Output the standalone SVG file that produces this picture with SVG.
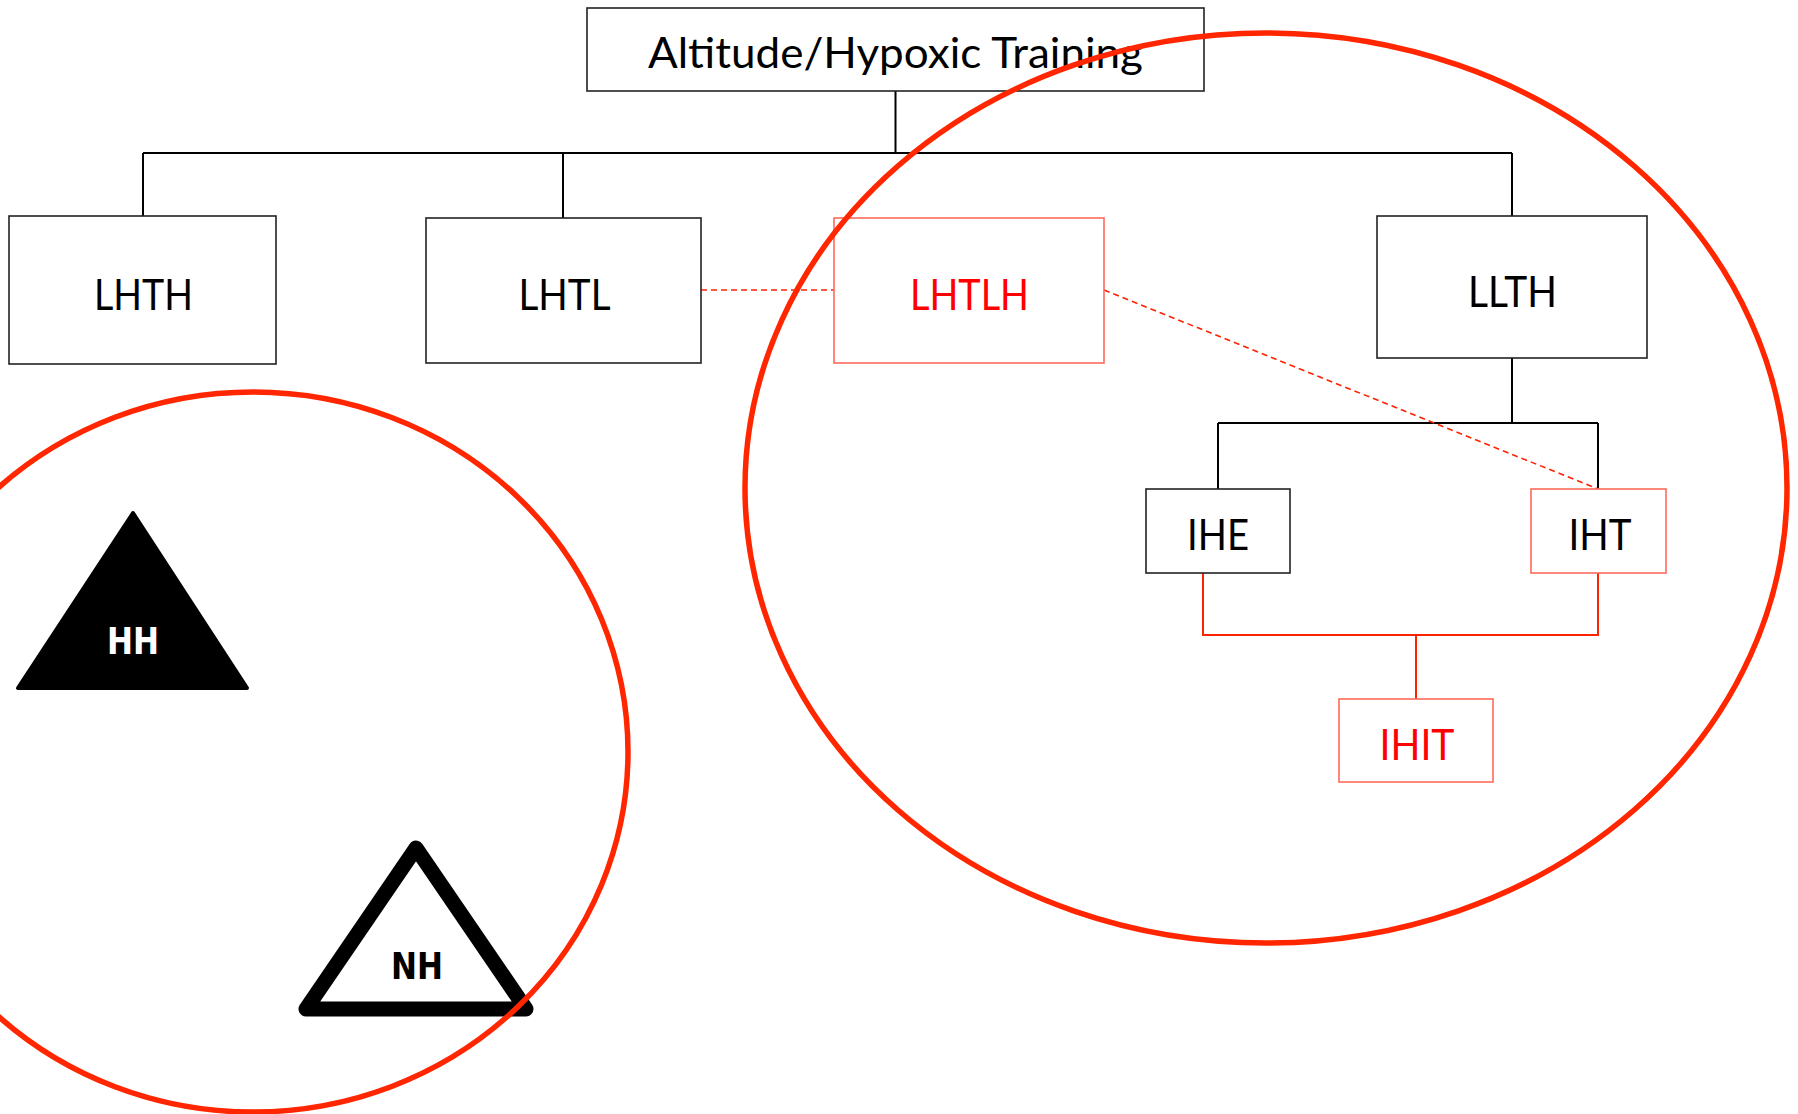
<svg xmlns="http://www.w3.org/2000/svg" width="1798" height="1114" viewBox="0 0 1798 1114">
<style>
.bx{fill:#fff;stroke:#222;stroke-width:1.6}
.rbx{fill:#fff;stroke:#ff6a5a;stroke-width:1.6}
.t{font-family:Lato,"Open Sans","Liberation Sans",sans-serif;font-size:42px;text-anchor:middle;fill:#000}
.rt{fill:#ff0000}
.tri{font-family:"DejaVu Sans","Liberation Sans",sans-serif;font-weight:bold;font-size:37px;text-anchor:middle}
.ln{fill:none;stroke:#000;stroke-width:2}
.rl{fill:none;stroke:#ff2200;stroke-width:2}
.dl{fill:none;stroke:#ff2200;stroke-width:1.6;stroke-dasharray:6 4}
.ov{fill:none;stroke:#ff2600;stroke-width:5.5}
</style>
<rect width="1798" height="1114" fill="#fff"/>
<g id="connectors">
<path class="ln" d="M895.5 91V153M143 153H1512M143 153V216M563 153V218M1512 153V216M1512 358V423M1218 423H1598M1218 423V489M1598 423V489"/>
<path class="rl" d="M1203 573V635H1598V573M1416 635V699"/>
<path class="dl" d="M701 290H834M1104 290L1598 489"/>
</g>
<g id="node-root"><rect class="bx" x="587" y="8" width="617" height="83"/><text class="t" x="895.5" y="67.5" font-size="40" textLength="495" lengthAdjust="spacingAndGlyphs">Altitude/Hypoxic Training</text></g>
<g id="node-lhth"><rect class="bx" x="9" y="216" width="267" height="148"/><text class="t" x="143.5" y="310" textLength="99" lengthAdjust="spacingAndGlyphs">LHTH</text></g>
<g id="node-lhtl"><rect class="bx" x="426" y="218" width="275" height="145"/><text class="t" x="564.5" y="310" textLength="92" lengthAdjust="spacingAndGlyphs">LHTL</text></g>
<g id="node-lhtlh"><rect class="rbx" x="834" y="218" width="270" height="145"/><text class="t rt" x="969.5" y="310" textLength="119" lengthAdjust="spacingAndGlyphs">LHTLH</text></g>
<g id="node-llth"><rect class="bx" x="1377" y="216" width="270" height="142"/><text class="t" x="1512.5" y="307" textLength="89" lengthAdjust="spacingAndGlyphs">LLTH</text></g>
<g id="node-ihe"><rect class="bx" x="1146" y="489" width="144" height="84"/><text class="t" x="1218" y="550" textLength="62" lengthAdjust="spacingAndGlyphs">IHE</text></g>
<g id="node-iht"><rect class="rbx" x="1531" y="489" width="135" height="84"/><text class="t" x="1600" y="550" textLength="63" lengthAdjust="spacingAndGlyphs">IHT</text></g>
<g id="node-ihit"><rect class="rbx" x="1339" y="699" width="154" height="83"/><text class="t rt" x="1417" y="760" textLength="75" lengthAdjust="spacingAndGlyphs">IHIT</text></g>
<g id="node-hh"><polygon points="133,513 18,688 247,688" fill="#000" stroke="#000" stroke-width="4" stroke-linejoin="round"/><text class="tri" x="133" y="654" fill="#fff" textLength="52" lengthAdjust="spacingAndGlyphs">HH</text></g>
<g id="node-nh"><polygon points="416,848 306,1009 526,1009" fill="#fff" stroke="#000" stroke-width="15" stroke-linejoin="round"/><text class="tri" x="417" y="979" fill="#000" textLength="52" lengthAdjust="spacingAndGlyphs">NH</text></g>
<g id="groupings">
<ellipse class="ov" cx="1266" cy="488" rx="521" ry="455"/>
<ellipse class="ov" cx="253" cy="752" rx="375" ry="360"/>
</g>
</svg>
